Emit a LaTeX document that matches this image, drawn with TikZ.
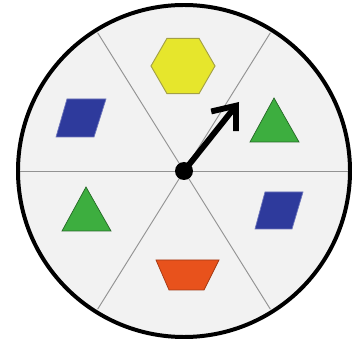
\documentclass[tikz,border=0pt]{standalone}
\usepackage{xcolor}
\usetikzlibrary{arrows.meta, shapes.geometric}
\definecolor{wheelbg}{HTML}{F2F2F2}
\definecolor{hexyellow}{HTML}{E6E62C}
\definecolor{hexedge}{HTML}{A3A046}
\definecolor{rhombblue}{HTML}{2E3A9C}
\definecolor{trigreen}{HTML}{3DAE3F}
\definecolor{trapred}{HTML}{E8521C}
\tikzstyle{divider} = [draw=gray!85, line width=0.8pt]
\tikzstyle{hexshape} = [regular polygon, regular polygon sides=6, inner sep=0pt,
    minimum size=1.92cm, fill=hexyellow, draw=hexedge, line width=0.8pt]
\tikzstyle{rhomb} = [fill=rhombblue, draw=rhombblue!70!white, line width=0.6pt]
\tikzstyle{tri} = [fill=trigreen, draw=trigreen!60!black, line width=0.6pt]
\tikzstyle{trap} = [fill=trapred, draw=trapred!70!black, line width=0.6pt]
\tikzstyle{pointer} = [line width=5pt, -{Straight Barb[length=6mm, width=9.5mm]}]

\begin{document}
\begin{tikzpicture}[x=0.03cm, y=-0.03cm]
  \useasboundingbox (0,0) rectangle (357,341);
  % Wheel
  \fill[wheelbg] (184,171) circle (166);
  \draw[divider] (18,171) -- (350,171);
  \draw[divider] (184,171) -- ++(122:163);
  \draw[divider] (184,171) -- ++(58:163);
  \draw[divider] (184,171) -- ++(238:163);
  \draw[divider] (184,171) -- ++(302:163);
  \draw[line width=3.4pt] (184,171) circle (166);

  % Shapes
  \node[hexshape](hex) at (183,66){};
  \draw[rhomb] (67,99) -- (106,99) -- (94,137) -- (56,137) -- cycle;
  \draw[tri] (274,98) -- (299,142) -- (250,142) -- cycle;
  \draw[tri] (86,187) -- (111,231) -- (62,231) -- cycle;
  \draw[rhomb] (265,192) -- (303,192) -- (292,229) -- (255,229) -- cycle;
  \draw[trap] (156,260) -- (219,260) -- (204,290) -- (169,290) -- cycle;

  % Spinner
  \node[circle, fill=black, inner sep=0pt, minimum size=0.54cm](hub) at (184,171){};
  \coordinate (tip) at (239,102);
  \draw[pointer](hub.center) -- (tip);
\end{tikzpicture}
\end{document}
